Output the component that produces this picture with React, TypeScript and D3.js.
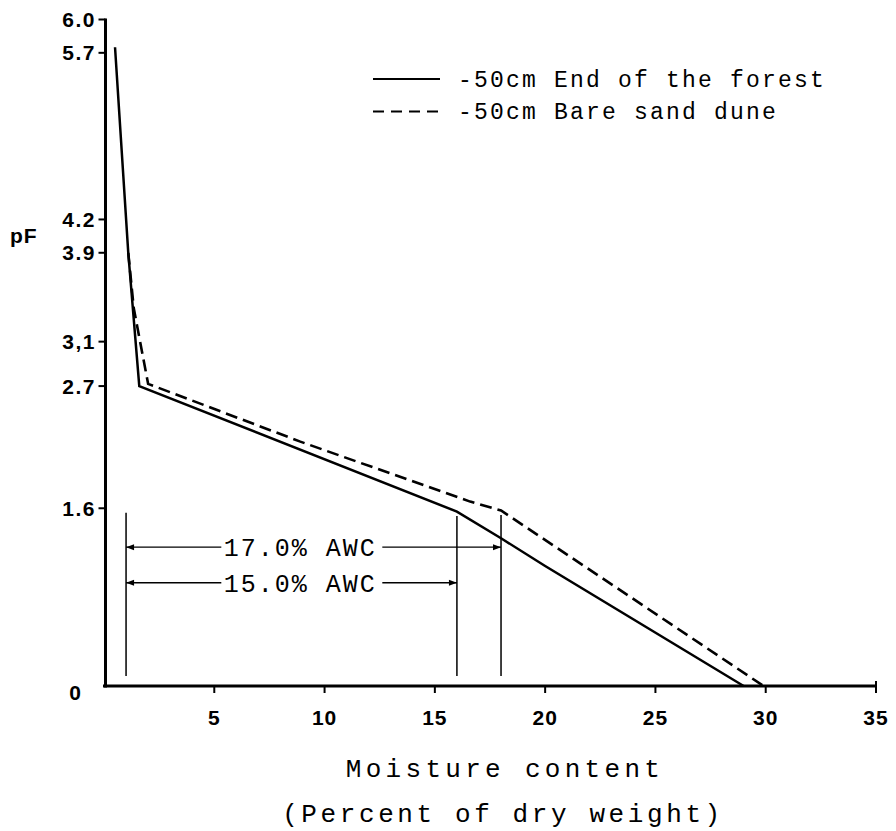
import React from "react";
import * as d3 from "d3";

const xTicks = [5, 10, 15, 20, 25, 30, 35];
const yTicks = [6.0, 5.7, 4.2, 3.9, 3.1, 2.7, 1.6, 0];
const yTickLabels = ["6.0", "5.7", "4.2", "3.9", "3,1", "2.7", "1.6", "0"];

const forestX = [0.5, 1.1, 1.6, 16, 18, 20, 29];
const forestPF = [5.75, 3.9, 2.7, 1.57, 1.33, 1.08, 0];
const duneX = [1.1, 1.35, 2.0, 8.9, 16.6, 18, 29.9];
const dunePF = [3.9, 3.4, 2.72, 2.2, 1.66, 1.58, 0];

const seriesNames = ["-50cm End of the forest", "-50cm Bare sand dune"];

const awcLineX = [1, 16, 18];
const awcLineTop = [1.56, 1.53, 1.54];
const awcLineBottom = [0.09, 0.09, 0.09];

const awcLabels = ["17.0% AWC", "15.0% AWC"];
const awcFrom = [1, 1];
const awcTo = [18, 16];
const awcPF = [1.25, 0.93];
const awcLabelX = 8.9;

const W = 896;
const H = 831;

export default function App() {
  const x = d3.scaleLinear().domain([0, 35]).range([104, 876]);
  const y = d3.scaleLinear().domain([0, 6]).range([686, 19.5]);
  const line = d3
    .line<[number, number]>()
    .x((d) => x(d[0]))
    .y((d) => y(d[1]));
  const forest = forestX.map((v, i) => [v, forestPF[i]] as [number, number]);
  const dune = duneX.map((v, i) => [v, dunePF[i]] as [number, number]);

  const sans = "'Liberation Sans', Arial, sans-serif";
  const mono = "'Liberation Mono', 'Courier New', monospace";
  const axisX = x(0) + 1.5;

  const arrowHead = (px: number, py: number, dir: number) => {
    const L = 8, h = 3;
    return `M${px},${py} L${px - dir * L},${py - h} L${px - dir * L},${py + h} Z`;
  };

  return (
    <svg
      width={W}
      height={H}
      style={{ position: "absolute", left: 0, top: 0, background: "#fff" }}
    >
      <rect x={0} y={0} width={W} height={H} fill="#fff" />
      {/* y axis */}
      <line x1={axisX} x2={axisX} y1={y(6) - 1} y2={y(0) + 1.5} stroke="#000" strokeWidth={3} />
      {yTicks.map((t, i) =>
        t === 0 ? (
          <text
            key={i}
            x={75}
            y={y(0) + 14}
            textAnchor="middle"
            fontFamily={sans}
            fontWeight="bold"
            fontSize={21}
          >
            {yTickLabels[i]}
          </text>
        ) : (
          <g key={i}>
            <line x1={axisX - 7} x2={axisX} y1={y(t)} y2={y(t)} stroke="#000" strokeWidth={2} />
            <text
              x={96}
              y={y(t)}
              dy="0.36em"
              textAnchor="end"
              fontFamily={sans}
              fontWeight="bold"
              fontSize={21}
              letterSpacing={1.5}
            >
              {yTickLabels[i]}
            </text>
          </g>
        )
      )}
      <text x={10} y={243} fontFamily={sans} fontWeight="bold" fontSize={21} letterSpacing={1}>
        pF
      </text>

      {/* x axis */}
      <line x1={x(0) - 1} x2={x(35)} y1={y(0)} y2={y(0)} stroke="#000" strokeWidth={3} />
      {xTicks.map((t, i) => (
        <g key={i}>
          <line
            x1={x(t)}
            x2={x(t)}
            y1={t === 35 ? y(0) - 5 : y(0)}
            y2={y(0) + 7}
            stroke="#000"
            strokeWidth={2}
          />
          <text
            x={x(t)}
            y={y(0) + 39}
            textAnchor="middle"
            fontFamily={sans}
            fontWeight="bold"
            fontSize={21}
            letterSpacing={1}
          >
            {t}
          </text>
        </g>
      ))}
      <text x={505} y={777} textAnchor="middle" fontFamily={mono} fontSize={26} letterSpacing={4.3}>
        Moisture content
      </text>
      <text x={503} y={822} textAnchor="middle" fontFamily={mono} fontSize={26} letterSpacing={3.6}>
        (Percent of dry weight)
      </text>

      {/* curves */}
      <path d={line(forest) || ""} fill="none" stroke="#000" strokeWidth={2.5} strokeLinejoin="miter" />
      <path
        d={line(dune) || ""}
        fill="none"
        stroke="#000"
        strokeWidth={2.6}
        strokeDasharray="12,6"
      />

      {/* AWC verticals */}
      {awcLineX.map((v, i) => (
        <line
          key={i}
          x1={x(v)}
          x2={x(v)}
          y1={y(awcLineTop[i])}
          y2={y(awcLineBottom[i])}
          stroke="#000"
          strokeWidth={1.5}
        />
      ))}
      {/* AWC arrows */}
      {awcLabels.map((lab, i) => {
        const yy = y(awcPF[i]);
        const x0 = x(awcFrom[i]);
        const x1 = x(awcTo[i]);
        const cx = x(awcLabelX);
        return (
          <g key={i}>
            <line x1={x0} x2={cx - 79} y1={yy} y2={yy} stroke="#000" strokeWidth={1.4} />
            <line x1={cx + 82} x2={x1} y1={yy} y2={yy} stroke="#000" strokeWidth={1.4} />
            <path d={arrowHead(x0, yy, -1)} fill="#000" />
            <path d={arrowHead(x1, yy, 1)} fill="#000" />
            <text
              x={cx}
              y={yy + 9}
              textAnchor="middle"
              fontFamily={mono}
              fontSize={25}
              letterSpacing={2}
            >
              {lab}
            </text>
          </g>
        );
      })}

      {/* legend */}
      <line x1={373} x2={440} y1={79} y2={79} stroke="#000" strokeWidth={2.2} />
      <text x={458} y={87} fontFamily={mono} fontSize={23} letterSpacing={2.2}>
        {seriesNames[0]}
      </text>
      <line x1={373} x2={440} y1={111.5} y2={111.5} stroke="#000" strokeWidth={2.2} strokeDasharray="11,7" />
      <text x={458} y={119} fontFamily={mono} fontSize={23} letterSpacing={2.2}>
        {seriesNames[1]}
      </text>
    </svg>
  );
}
